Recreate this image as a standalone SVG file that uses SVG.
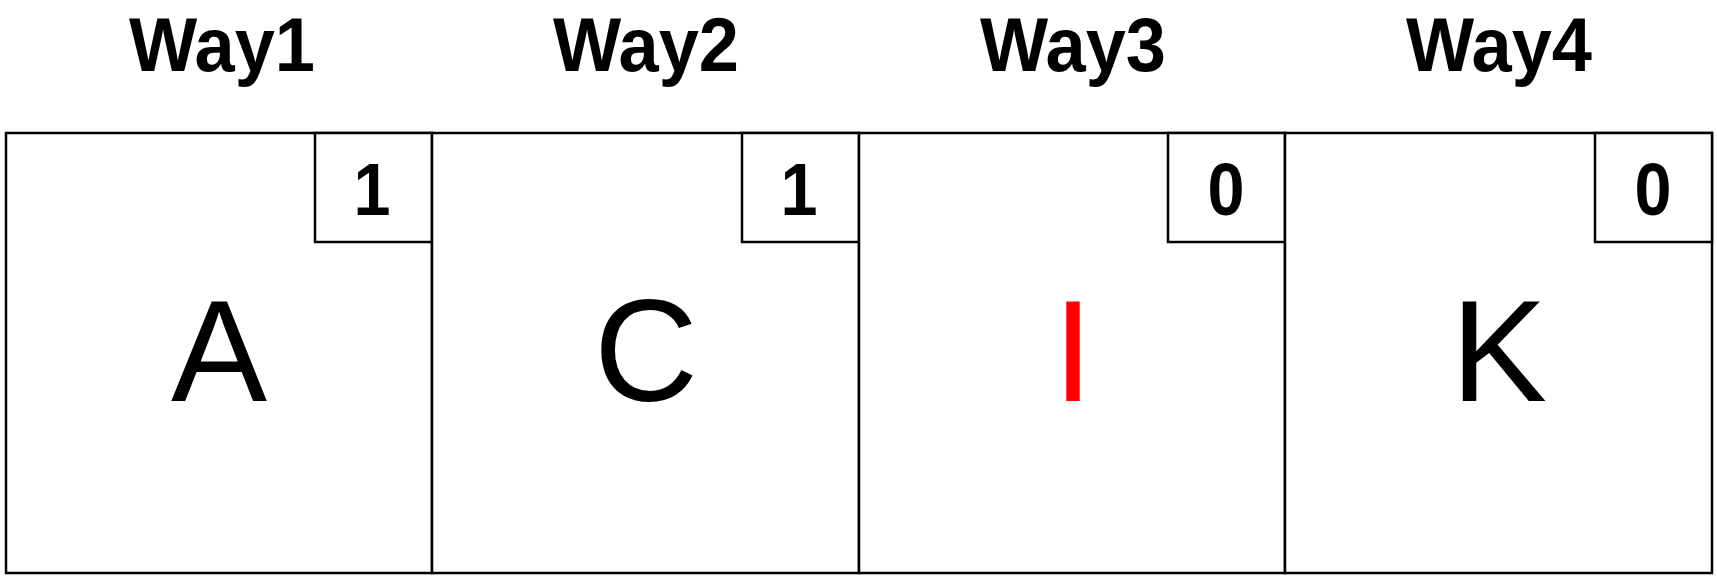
<svg xmlns="http://www.w3.org/2000/svg" width="1717" height="577" viewBox="0 0 1717 577">
<style>
.cell{fill:#fff;stroke:#000;stroke-width:2.5}
.tag{fill:#fff;stroke:#000;stroke-width:2.5}
.hd{font-family:"Liberation Sans",Arial,sans-serif;font-weight:bold;font-size:76px;text-anchor:middle;fill:#000}
.num{font-family:"Liberation Sans",Arial,sans-serif;font-weight:bold;font-size:74px;text-anchor:middle;fill:#000}
.big{font-family:"Liberation Sans",Arial,sans-serif;font-size:144px;text-anchor:middle;fill:#000}
</style>
<rect width="1717" height="577" fill="#fff"/>
<g id="way1">
<text class="hd" x="222" y="71" textLength="186" lengthAdjust="spacingAndGlyphs">Way1</text>
<rect class="cell" x="6" y="133" width="426" height="440"/>
<rect class="tag" x="315" y="133" width="117" height="109"/>
<text class="num" x="372" y="215" textLength="37" lengthAdjust="spacingAndGlyphs">1</text>
<text class="big" x="219" y="401">A</text>
</g>
<g id="way2">
<text class="hd" x="646" y="71" textLength="186" lengthAdjust="spacingAndGlyphs">Way2</text>
<rect class="cell" x="432" y="133" width="427" height="440"/>
<rect class="tag" x="742" y="133" width="117" height="109"/>
<text class="num" x="799" y="215" textLength="37" lengthAdjust="spacingAndGlyphs">1</text>
<text class="big" x="646" y="401">C</text>
</g>
<g id="way3">
<text class="hd" x="1073" y="71" textLength="186" lengthAdjust="spacingAndGlyphs">Way3</text>
<rect class="cell" x="859" y="133" width="426" height="440"/>
<rect class="tag" x="1168" y="133" width="117" height="109"/>
<text class="num" x="1226" y="215" textLength="37" lengthAdjust="spacingAndGlyphs">0</text>
<text class="big" x="1073" y="401" style="fill:#ff0000">I</text>
</g>
<g id="way4">
<text class="hd" x="1499" y="71" textLength="186" lengthAdjust="spacingAndGlyphs">Way4</text>
<rect class="cell" x="1285" y="133" width="427" height="440"/>
<rect class="tag" x="1595" y="133" width="117" height="109"/>
<text class="num" x="1653" y="215" textLength="37" lengthAdjust="spacingAndGlyphs">0</text>
<text class="big" x="1499" y="401">K</text>
</g>
<g id="connectors"></g>
</svg>
